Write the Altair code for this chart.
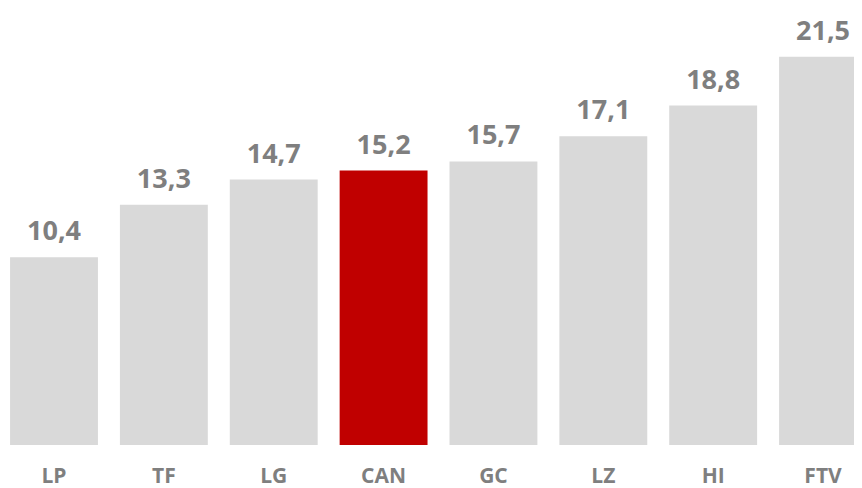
import altair as alt
import pandas as pd

categories = ["LP", "TF", "LG", "CAN", "GC", "LZ", "HI", "FTV"]
values = [10.4, 13.3, 14.7, 15.2, 15.7, 17.1, 18.8, 21.5]
labels = ["10,4", "13,3", "14,7", "15,2", "15,7", "17,1", "18,8", "21,5"]
highlight = "CAN"

df = pd.DataFrame({"cat": categories, "val": values, "lab": labels})
df["hl"] = df["cat"] == highlight

x = alt.X(
    "cat:N",
    sort=categories,
    scale=alt.Scale(range=[-8.93, 869.97], paddingInner=0.2, paddingOuter=0.1, round=False),
    axis=alt.Axis(
        title=None, domain=False, ticks=False, tickSize=0, grid=False,
        labelAngle=0, labelFont="Open Sans", labelFontWeight="bold",
        labelFontSize=21, labelColor="#7f7f7f", labelBaseline="alphabetic",
        labelPadding=37,
    ),
)
y = alt.Y("val:Q", scale=alt.Scale(domain=[0, 24.2], nice=False), axis=None)

bars = alt.Chart(df).mark_bar().encode(
    x=x,
    y=y,
    color=alt.Color("hl:N", scale=alt.Scale(domain=[False, True], range=["#d9d9d9", "#c00000"]), legend=None),
)

text = alt.Chart(df).mark_text(
    font="Open Sans", fontWeight="bold", fontSize=27, color="#7f7f7f",
    baseline="alphabetic", dy=-17,
).encode(x=alt.X("cat:N", sort=categories), y="val:Q", text="lab:N")

chart = (bars + text).properties(
    width=846, height=437,
    autosize=alt.AutoSizeParams(type="none"),
    padding={"left": 0, "top": 0, "right": 0, "bottom": 48},
).configure_view(stroke=None)

chart.save("out.html", embed_options={"renderer": "svg", "actions": False})
